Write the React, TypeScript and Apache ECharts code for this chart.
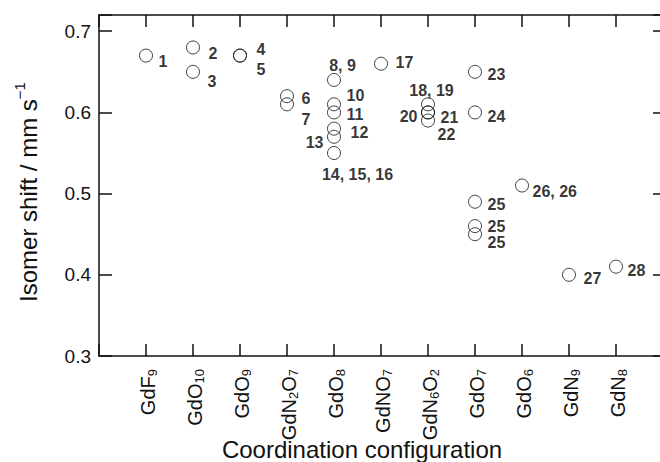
import React, { useEffect, useRef } from "react";
import * as echarts from "echarts";

// Coordination configurations (digits are drawn as subscripts)
const categories = ["GdF9", "GdO10", "GdO9", "GdN2O7", "GdO8", "GdNO7", "GdN6O2", "GdO7", "GdO6", "GdN9", "GdN8"];

// y axis tick labels
const yTickLabels = ["0.3", "0.4", "0.5", "0.6", "0.7"];

// Each measured point: its configuration, isomer shift (mm/s) and compound label
const pointConfig = [
  "GdF9", "GdO10", "GdO10", "GdO9", "GdO9", "GdN2O7", "GdN2O7",
  "GdO8", "GdO8", "GdO8", "GdO8", "GdO8", "GdO8",
  "GdNO7", "GdN6O2", "GdN6O2", "GdN6O2", "GdN6O2",
  "GdO7", "GdO7", "GdO7", "GdO7", "GdO7",
  "GdO6", "GdN9", "GdN8",
];
const pointShift = [
  0.67, 0.68, 0.65, 0.67, 0.67, 0.62, 0.61,
  0.64, 0.61, 0.60, 0.58, 0.57, 0.55,
  0.66, 0.61, 0.60, 0.60, 0.59,
  0.65, 0.60, 0.49, 0.46, 0.45,
  0.51, 0.40, 0.41,
];
const pointLabel = [
  "1", "2", "3", "4", "5", "6", "7",
  "8, 9", "10", "11", "12", "13", "14, 15, 16",
  "17", "18, 19", "20", "21", "22",
  "23", "24", "25", "25", "25",
  "26, 26", "27", "28",
];

// label placement (style): offset of label anchor from the circle centre, and alignment
const labelDx = [13, 16, 15, 17, 17, 15, 15, 9, 13, 13, 17, -10, 24, 15, 4, -10, 13, 10, 13, 13, 13, 13, 13, 11, 15, 12];
const labelDy = [6, 7, 10, -6, 14, 3, 16, -14, -8, 3, 4, 6, 22, -1, -13, 5, 6, 14, 3, 5, 3, 1, 9, 6, 4, 4];
const labelAlign = [
  "left", "left", "left", "left", "left", "left", "left",
  "center", "left", "left", "left", "right", "center",
  "left", "center", "right", "left", "left",
  "left", "left", "left", "left", "left",
  "left", "left", "left",
];

const FONT = "'Liberation Sans', Arial, Helvetica, sans-serif";
const INK = "#111";
const SYMBOL = 13;

function subscriptRich(name: string): string {
  return name.replace(/(\D+)|(\d+)/g, (_m, a, b) => (a ? `{m|${a}}` : `{s|${b}}`));
}

export default function App() {
  const ref = useRef<HTMLDivElement>(null);
  useEffect(() => {
    if (!ref.current) return;
    const chart = echarts.init(ref.current, undefined, { renderer: "svg" });
    const r = SYMBOL / 2;
    const data = pointShift.map((v, i) => ({
      value: [categories.indexOf(pointConfig[i]) + 1, v],
      label: {
        show: true,
        formatter: pointLabel[i],
        position: [labelDx[i] + r, labelDy[i] + r],
        align: labelAlign[i],
        verticalAlign: "middle",
      },
    }));
    const lineStyle = { color: INK, width: 1.5 };
    const option: any = {
      animation: false,
      backgroundColor: "#ffffff",
      grid: { left: 99, right: -3, top: 15, bottom: 106, show: false, containLabel: false, outerBoundsMode: "none" },
      xAxis: [
        {
          type: "value",
          min: 0,
          max: 12,
          interval: 1,
          position: "bottom",
          axisLine: { show: true, onZero: false, lineStyle },
          axisTick: { show: true, inside: true, length: 12, lineStyle },
          splitLine: { show: false },
          axisLabel: {
            show: true,
            rotate: 90,
            margin: 13,
            color: INK,
            fontFamily: FONT,
            formatter: (v: number) => {
              const name = categories[Math.round(v) - 1];
              return name ? subscriptRich(name) : "";
            },
            rich: {
              m: { fontSize: 20, fontFamily: FONT, color: INK, lineHeight: 16, verticalAlign: "top" },
              s: { fontSize: 13, fontFamily: FONT, color: INK, lineHeight: 13, padding: [13, 0, 0, 0] },
            },
          },
        },
        {
          type: "value",
          min: 0,
          max: 12,
          interval: 1,
          position: "top",
          axisLine: { show: true, onZero: false, lineStyle },
          axisTick: { show: true, inside: true, length: 12, lineStyle },
          splitLine: { show: false },
          axisLabel: { show: false },
        },
      ],
      yAxis: [
        {
          type: "value",
          min: 0.3,
          max: 0.72,
          interval: 0.1,
          position: "left",
          axisLine: { show: true, onZero: false, lineStyle },
          axisTick: { show: true, inside: true, length: 13, lineStyle },
          splitLine: { show: false },
          axisLabel: {
            show: true,
            margin: 8,
            fontSize: 19,
            fontFamily: FONT,
            color: INK,
            formatter: (v: number) => {
              const s = v.toFixed(1);
              return Math.abs(v * 10 - Math.round(v * 10)) < 1e-6 && yTickLabels.includes(s) ? s : "";
            },
          },
        },
        {
          type: "value",
          min: 0.3,
          max: 0.72,
          interval: 0.1,
          position: "right",
          axisLine: { show: true, onZero: false, lineStyle },
          axisTick: { show: true, inside: true, length: 10, lineStyle },
          splitLine: { show: false },
          axisLabel: { show: false },
        },
      ],
      series: [
        {
          type: "scatter",
          xAxisIndex: 0,
          yAxisIndex: 0,
          symbol: "circle",
          symbolSize: SYMBOL,
          itemStyle: { color: "rgba(0,0,0,0)", borderColor: INK, borderWidth: 1 },
          label: { show: true, fontSize: 16, fontWeight: "bold", fontFamily: FONT, color: "#000" },
          emphasis: { disabled: true },
          data,
        },
      ],
      graphic: [
        {
          type: "text",
          x: 362,
          y: 449,
          style: {
            text: "Coordination configuration",
            fontSize: 24,
            fontFamily: FONT,
            fill: INK,
            align: "center",
            verticalAlign: "middle",
          },
        },
        {
          type: "text",
          x: 28,
          y: 192,
          rotation: Math.PI / 2,
          style: {
            text: "{a|Isomer shift / mm s}{b|\u22121}",
            fill: INK,
            align: "center",
            verticalAlign: "middle",
            rich: {
              a: { fontSize: 24, fontFamily: FONT, fill: INK, lineHeight: 32 },
              b: { fontSize: 15, fontFamily: FONT, fill: INK, lineHeight: 15, verticalAlign: "top" },
            },
          },
        },
      ],
    };
    chart.setOption(option);
    return () => chart.dispose();
  }, []);
  return (
    <div
      ref={ref}
      style={{ position: "fixed", left: 0, top: 0, width: 660, height: 462, background: "#fff" }}
    />
  );
}
